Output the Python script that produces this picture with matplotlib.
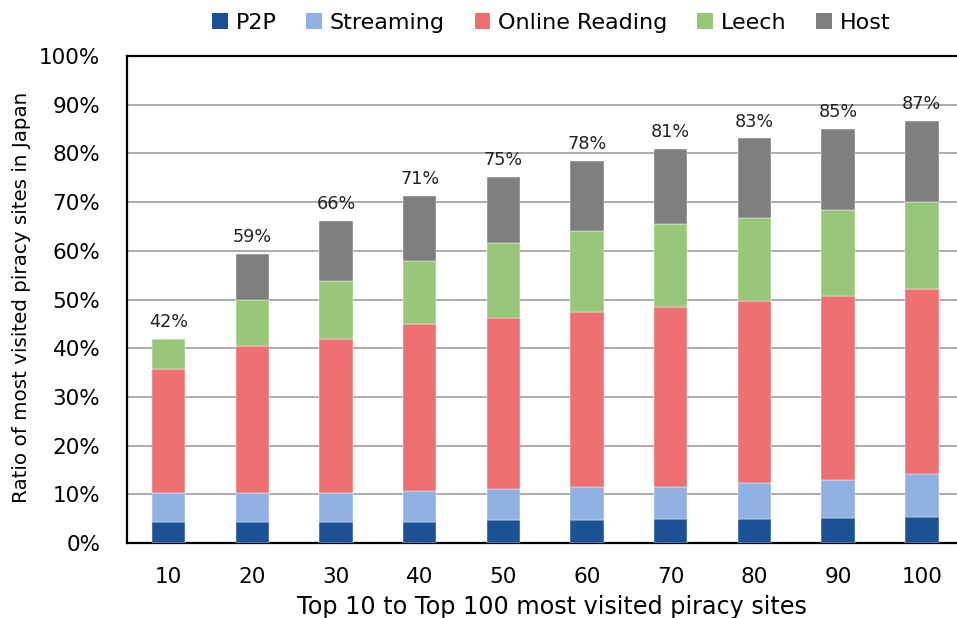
import matplotlib
matplotlib.use("Agg")
import matplotlib.pyplot as plt
from matplotlib.patches import Patch
import numpy as np

plt.rcParams['font.family'] = ['DejaVu Sans']

categories = ["10", "20", "30", "40", "50", "60", "70", "80", "90", "100"]
# cumulative tops (percent)
p2p = [4.4, 4.4, 4.4, 4.4, 4.7, 4.7, 4.9, 5.0, 5.2, 5.4]
streaming_top = [10.3, 10.3, 10.3, 10.7, 11.1, 11.4, 11.6, 12.3, 12.9, 14.1]
reading_top = [35.75, 40.5, 41.9, 44.9, 46.1, 47.4, 48.4, 49.6, 50.8, 52.1]
leech_top = [41.9, 50.0, 53.9, 57.9, 61.6, 64.1, 65.6, 66.8, 68.4, 70.0]
host_top = [41.9, 59.3, 66.2, 71.2, 75.2, 78.4, 81.0, 83.1, 85.1, 86.6]
total_labels = ["42%", "59%", "66%", "71%", "75%", "78%", "81%", "83%", "85%", "87%"]

series_names = ["P2P", "Streaming", "Online Reading", "Leech", "Host"]
colors = ["#1B5195", "#8FB1E3", "#EE7070", "#98C779", "#7F7F7F"]

tops = [np.array(p2p), np.array(streaming_top), np.array(reading_top),
        np.array(leech_top), np.array(host_top)]

fig = plt.figure(figsize=(9.57, 6.18), dpi=100)
ax = fig.add_axes([126.7 / 957, (618 - 543) / 618, 837 / 957, (543 - 56) / 618])

x = np.arange(len(categories))
bottom = np.zeros(len(categories))
for name, col, top in zip(series_names, colors, tops):
    h = top - bottom
    ax.bar(x, h, bottom=bottom, width=0.40, color=col, zorder=3,
           edgecolor='white', linewidth=0.3)
    bottom = top

for xi, top, lab in zip(x, tops[-1], total_labels):
    ax.text(xi, top + 1.6, lab, ha='center', va='bottom', fontsize=12.7, color='#222222')

ax.set_xlim(-0.5, 9.5)
ax.set_ylim(0, 100)
ax.set_yticks(np.arange(0, 101, 10))
ax.set_yticklabels([f"{v}%" for v in range(0, 101, 10)])
ax.set_xticks(x)
ax.set_xticklabels(categories)
ax.tick_params(axis='both', length=0, labelsize=15.5, colors='black')
ax.tick_params(axis='y', pad=19)
ax.tick_params(axis='x', pad=17)
ax.yaxis.grid(True, color='#A6A6A6', linewidth=1.3, zorder=0)
ax.set_axisbelow(True)
for s in ['left', 'top', 'bottom']:
    ax.spines[s].set_color('black')
    ax.spines[s].set_linewidth(1.6)
ax.spines['right'].set_visible(False)

ax.set_xlabel("Top 10 to Top 100 most visited piracy sites", fontsize=17.2)
ax.xaxis.set_label_coords(0.5075, -0.106)
ax.set_ylabel("Ratio of most visited piracy sites in Japan", fontsize=14.3)
ax.yaxis.set_label_coords(-0.1145, 0.505)

handles = [Patch(facecolor=c, edgecolor='none') for c in colors]
fig.legend(handles, series_names, loc='upper center', bbox_to_anchor=(0.576, 1.012),
           ncol=5, frameon=False, fontsize=16, handlelength=0.7, handleheight=0.7,
           handletextpad=0.35, columnspacing=1.35)

fig.savefig("out.png", dpi=100)
